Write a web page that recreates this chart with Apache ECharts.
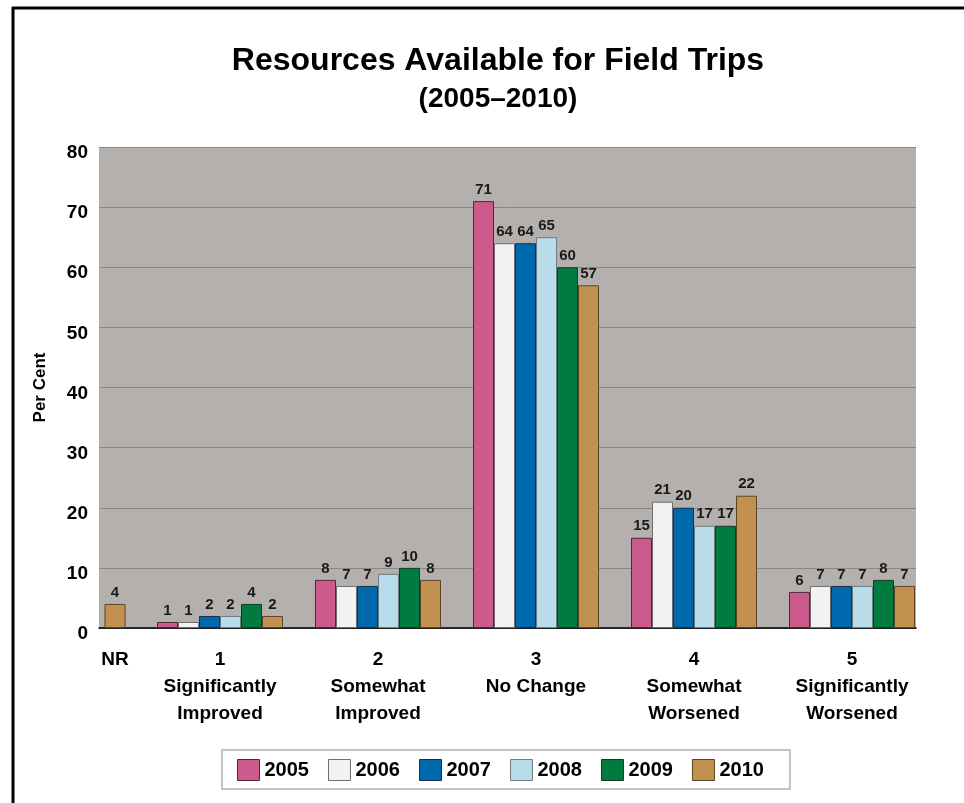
<!DOCTYPE html>
<html>
<head>
<meta charset="utf-8">
<script src="https://cdn.jsdelivr.net/npm/echarts@6/dist/echarts.min.js"></script>
<style>
html,body{margin:0;padding:0;background:#fff;}
#chart{width:964px;height:803px;}
</style>
</head>
<body>
<div id="chart"></div>
<script>
// ---- data ----
var years = ['2005', '2006', '2007', '2008', '2009', '2010'];
var nrCategory = ['NR'];
var nrValue2010 = [4];
var categories = ['1\nSignificantly\nImproved', '2\nSomewhat\nImproved', '3\nNo Change', '4\nSomewhat\nWorsened', '5\nSignificantly\nWorsened'];
var v2005 = [1, 8, 71, 15, 6];
var v2006 = [1, 7, 64, 21, 7];
var v2007 = [2, 7, 64, 20, 7];
var v2008 = [2, 9, 65, 17, 7];
var v2009 = [4, 10, 60, 17, 8];
var v2010 = [2, 8, 57, 22, 7];
var yTicks = [0, 10, 20, 30, 40, 50, 60, 70, 80];
var titleText = 'Resources Available for Field Trips';
var subtitleText = '(2005\u20132010)';
var yAxisTitle = 'Per Cent';

// ---- styling ----
var colors = ['#cd5a8c', '#f1f2f4', '#0068ad', '#b8dcea', '#007b40', '#c3914f'];
var borders = ['#4a2a38', '#6e6e6e', '#1d2f48', '#6e7c82', '#153a25', '#5a4428'];
var SANS = "'Liberation Sans', Arial, Helvetica, sans-serif";
var seriesValues = [v2005, v2006, v2007, v2008, v2009, v2010];

var chart = echarts.init(document.getElementById('chart'), null, {renderer: 'canvas'});

var labelStyle = {
  show: true, position: 'top', distance: 4,
  fontFamily: SANS, fontWeight: 'bold', fontSize: 15, color: '#1a1a1a'
};

var series = years.map(function (y, i) {
  return {
    name: y, type: 'bar', xAxisIndex: 2, yAxisIndex: 2,
    data: seriesValues[i], barWidth: 21, barGap: '0%',
    itemStyle: {color: colors[i], borderColor: borders[i], borderWidth: 1},
    label: labelStyle, z: 3
  };
});
series.push({
  name: '2010', type: 'bar', xAxisIndex: 1, yAxisIndex: 1,
  data: nrValue2010, barWidth: 21,
  itemStyle: {color: colors[5], borderColor: borders[5], borderWidth: 1},
  label: labelStyle, z: 3
});

var catLabel = {
  fontFamily: SANS, fontWeight: 'bold', fontSize: 19, color: '#000',
  lineHeight: 27, margin: 18, interval: 0
};

var option = {
  animation: false,
  color: colors,
  grid: [
    {left: 99, top: 147, width: 817, height: 481, show: true, backgroundColor: '#b4b0ad', borderWidth: 0},
    {left: 99, top: 147, width: 32, height: 481},
    {left: 141, top: 147, width: 790, height: 481}
  ],
  xAxis: [
    {type: 'category', gridIndex: 0, data: [''], axisLine: {show: true, lineStyle: {color: '#000', width: 1.5}},
     axisTick: {show: false}, axisLabel: {show: false}},
    {type: 'category', gridIndex: 1, data: nrCategory, axisLine: {show: false}, axisTick: {show: false},
     axisLabel: catLabel},
    {type: 'category', gridIndex: 2, data: categories, axisLine: {show: false}, axisTick: {show: false},
     axisLabel: catLabel}
  ],
  yAxis: [
    {type: 'value', gridIndex: 0, min: yTicks[0], max: yTicks[yTicks.length - 1], interval: 10,
     axisLine: {show: false}, axisTick: {show: false},
     splitLine: {show: true, lineStyle: {color: '#8a8684', width: 1}},
     axisLabel: {fontFamily: SANS, fontWeight: 'bold', fontSize: 19, color: '#000', margin: 11,
                 verticalAlign: 'top', lineHeight: 12},
     name: yAxisTitle, nameLocation: 'middle', nameRotate: 90, nameGap: 50,
     nameTextStyle: {fontFamily: SANS, fontWeight: 'bold', fontSize: 17, color: '#000'}},
    {type: 'value', gridIndex: 1, min: 0, max: 80, show: false},
    {type: 'value', gridIndex: 2, min: 0, max: 80, show: false}
  ],
  legend: {
    data: years, left: 222, top: 750,
    backgroundColor: '#fff', borderColor: '#c4c4c4', borderWidth: 2, borderRadius: 0,
    padding: [9, 26, 8, 15], itemWidth: 22, itemHeight: 21, itemGap: 19,
    icon: 'rect',
    itemStyle: {borderWidth: 1},
    textStyle: {fontFamily: SANS, fontWeight: 'bold', fontSize: 20, color: '#000'}
  },
  graphic: [
    {type: 'line', shape: {x1: 12, y1: 8, x2: 964, y2: 8}, style: {stroke: '#000', lineWidth: 3}},
    {type: 'line', shape: {x1: 13, y1: 7, x2: 13, y2: 803}, style: {stroke: '#000', lineWidth: 3}},
    {type: 'text',
     style: {text: titleText, x: 498, y: 61, textAlign: 'center', textVerticalAlign: 'middle',
             font: 'bold 32px ' + SANS, fill: '#000'}},
    {type: 'text',
     style: {text: subtitleText, x: 498, y: 99, textAlign: 'center', textVerticalAlign: 'middle',
             font: 'bold 28px ' + SANS, fill: '#000'}}
  ],
  series: series
};
chart.setOption(option);
</script>
</body>
</html>
